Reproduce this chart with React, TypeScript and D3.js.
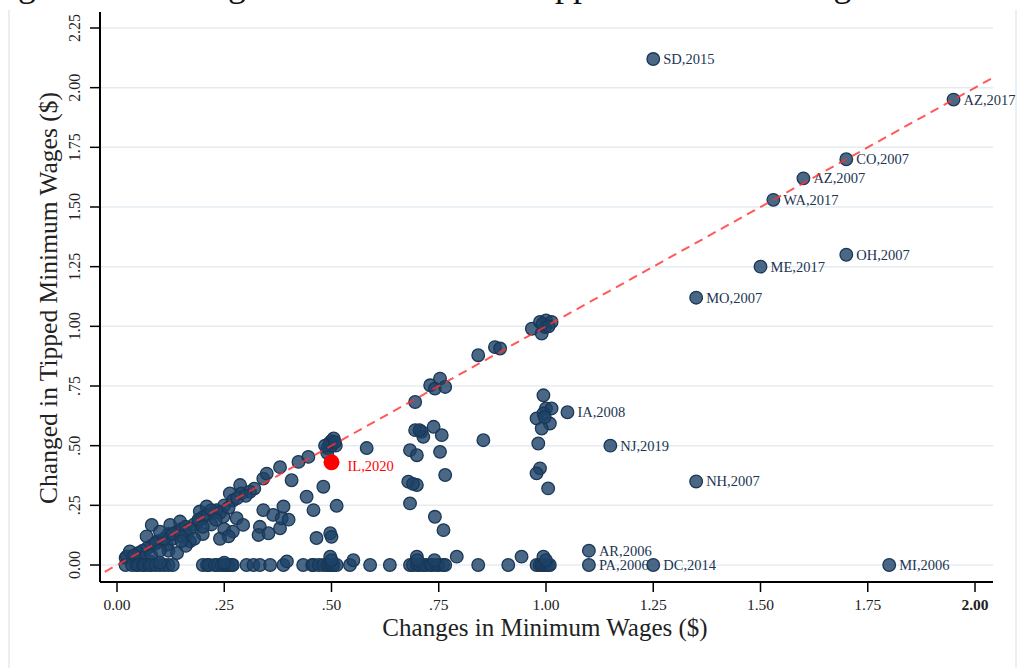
import React from "react";
import * as d3 from "d3";

const xTicks = [0, 0.25, 0.5, 0.75, 1, 1.25, 1.5, 1.75, 2];
const xTickLabels = ["0.00", ".25", ".50", ".75", "1.00", "1.25", "1.50", "1.75", "2.00"];
const yTicks = [0, 0.25, 0.5, 0.75, 1, 1.25, 1.5, 1.75, 2, 2.25];
const yTickLabels = ["0.00", ".25", ".50", ".75", "1.00", "1.25", "1.50", "1.75", "2.00", "2.25"];

// unlabeled observations: [change in minimum wage, change in tipped minimum wage]
const diagonalCluster: [number, number][] = [
  [0.02, 0.03], [0.023, 0.036], [0.03, 0.057], [0.046, 0.022], [0.05, 0.05], [0.06, 0.06],
  [0.069, 0.12], [0.077, 0.015], [0.08, 0.08], [0.081, 0.168], [0.093, 0.099], [0.1, 0.1],
  [0.116, 0.085], [0.12, 0.13], [0.124, 0.168], [0.13, 0.11], [0.14, 0.14], [0.147, 0.182],
  [0.15, 0.15], [0.16, 0.16], [0.162, 0.126], [0.17, 0.099], [0.18, 0.17], [0.19, 0.182],
  [0.193, 0.224], [0.2, 0.2], [0.209, 0.245], [0.21, 0.21], [0.23, 0.22], [0.232, 0.23],
  [0.248, 0.203], [0.25, 0.25], [0.263, 0.3], [0.27, 0.27], [0.279, 0.196], [0.287, 0.335],
  [0.29, 0.3], [0.294, 0.168], [0.31, 0.307], [0.32, 0.32], [0.333, 0.16], [0.33, 0.126],
  [0.341, 0.362], [0.341, 0.23], [0.349, 0.383], [0.353, 0.133], [0.364, 0.21], [0.38, 0.41],
  [0.38, 0.154], [0.384, 0.196], [0.388, 0.245], [0.4, 0.19], [0.407, 0.355], [0.423, 0.432],
  [0.442, 0.286], [0.446, 0.453], [0.458, 0.23], [0.465, 0.113], [0.481, 0.328], [0.497, 0.133],
  [0.5, 0.118], [0.512, 0.248],
  [0.07, 0.07], [0.09, 0.09], [0.11, 0.11], [0.13, 0.13], [0.1, 0.14], [0.15, 0.12],
  [0.17, 0.15], [0.19, 0.19], [0.22, 0.23], [0.24, 0.22], [0.26, 0.24], [0.28, 0.28],
  [0.3, 0.29], [0.22, 0.17], [0.25, 0.15], [0.27, 0.14], [0.26, 0.12], [0.24, 0.11],
  [0.2, 0.13], [0.18, 0.11], [0.16, 0.08], [0.12, 0.06], [0.14, 0.05], [0.06, 0.03],
  [0.04, 0.04], [0.08, 0.04], [0.1, 0.06], [0.15, 0.1], [0.2, 0.16], [0.23, 0.19],
];
const halfCluster: [number, number][] = [
  [0.49, 0.49], [0.495, 0.51], [0.5, 0.52], [0.505, 0.53], [0.51, 0.5], [0.49, 0.47], [0.5, 0.5],
  [0.485, 0.5], [0.508, 0.515], [0.582, 0.49],
];
const seventyFiveCluster: [number, number][] = [
  [0.695, 0.683], [0.73, 0.753], [0.741, 0.739], [0.753, 0.781], [0.765, 0.746], [0.695, 0.565],
  [0.71, 0.558], [0.714, 0.537], [0.738, 0.579], [0.757, 0.544], [0.683, 0.481], [0.699, 0.46],
  [0.753, 0.474], [0.765, 0.377], [0.679, 0.349], [0.699, 0.335], [0.683, 0.258], [0.741, 0.202],
  [0.761, 0.146], [0.854, 0.523], [0.842, 0.879], [0.881, 0.913], [0.893, 0.907],
  [0.69, 0.34], [0.705, 0.565],
];
const oneCluster: [number, number][] = [
  [0.967, 0.99], [0.986, 1.018], [1.0, 1.025], [1.013, 1.018], [0.99, 0.97], [0.998, 0.997],
  [0.992, 1.01], [1.006, 1.0],
  [0.994, 0.711], [1.0, 0.656], [1.013, 0.656], [0.994, 0.635], [0.978, 0.614], [1.009, 0.593],
  [0.99, 0.572], [0.982, 0.509], [0.986, 0.405], [0.978, 0.384], [1.005, 0.321], [0.997, 0.62],
];
const zeroRowX = [
  0.02, 0.035, 0.045, 0.05, 0.06, 0.065, 0.075, 0.08, 0.09, 0.1, 0.11, 0.12, 0.13, 0.2, 0.21,
  0.215, 0.228, 0.235, 0.244, 0.25, 0.256, 0.26, 0.267, 0.27, 0.302, 0.318, 0.333, 0.357, 0.388,
  0.434, 0.455, 0.458, 0.47, 0.481, 0.49, 0.495, 0.5, 0.504, 0.505, 0.512, 0.543, 0.59, 0.636,
  0.683, 0.69, 0.699, 0.705, 0.714, 0.72, 0.73, 0.735, 0.745, 0.75, 0.76, 0.765, 0.842, 0.912,
  0.978, 0.985, 0.99, 0.994, 1.0, 1.005, 1.009,
];
const nearZero: [number, number][] = [
  [0.396, 0.015], [0.497, 0.035], [0.551, 0.02], [0.699, 0.035], [0.792, 0.035],
  [0.943, 0.035], [0.994, 0.035], [0.5, 0.02], [0.7, 0.02], [0.74, 0.02], [1.0, 0.02],
  [0.25, 0.01], [0.1, 0.01],
];

const labeledNames = [
  "SD,2015", "AZ,2017", "CO,2007", "AZ,2007", "WA,2017", "OH,2007", "ME,2017", "MO,2007",
  "IA,2008", "NJ,2019", "NH,2007", "AR,2006", "PA,2006", "DC,2014", "MI,2006",
];
const labeledX = [1.25, 1.95, 1.7, 1.6, 1.53, 1.7, 1.5, 1.35, 1.05, 1.15, 1.35, 1.1, 1.1, 1.25, 1.8];
const labeledY = [2.12, 1.95, 1.7, 1.62, 1.53, 1.3, 1.25, 1.12, 0.64, 0.5, 0.35, 0.06, 0, 0, 0];

const highlightName = "IL,2020";
const highlightX = 0.5;
const highlightY = 0.43;

const W = 1019;
const H = 668;
const plotLeft = 100;
const plotRight = 993;
const plotTop = 12;
const plotBottom = 582;

export default function App() {
  const x = d3.scaleLinear().domain([0, 2]).range([117, 975]);
  const y = d3.scaleLinear().domain([0, 2.25]).range([565, 28]);

  const plain: [number, number][] = [
    ...diagonalCluster,
    ...halfCluster,
    ...seventyFiveCluster,
    ...oneCluster,
    ...zeroRowX.map((v) => [v, 0] as [number, number]),
    ...nearZero,
  ];
  const labeled = labeledNames.map((n, i) => ({ n, x: labeledX[i], y: labeledY[i] }));

  const lo = x.invert(plotLeft) - 0.05;
  const hi = x.invert(plotRight) + 0.05;
  const diag = d3.line<number>().x((d) => x(d)).y((d) => y(d))([lo, hi]) as string;

  const dotFill = "#1d4268";
  const dotStroke = "#1a3856";
  const serif = "'Liberation Serif', 'Times New Roman', serif";

  return (
    <svg
      width={W}
      height={H}
      style={{ position: "absolute", left: 0, top: 0, background: "#fff" }}
      fontFamily={serif}
    >
      <defs>
        <clipPath id="plotclip">
          <rect x={plotLeft} y={plotTop} width={plotRight - plotLeft} height={plotBottom - plotTop} />
        </clipPath>
      </defs>
      <rect x={0} y={0} width={W} height={H} fill="#fff" />
      {/* outer frame */}
      <line x1={9} x2={9} y1={10} y2={H} stroke="#e3eaf0" strokeWidth={1.5} />
      <line x1={1016} x2={1016} y1={10} y2={H} stroke="#e3eaf0" strokeWidth={1.5} />
      {/* title (mostly cropped at the top edge, as in the reference) */}
      <text x={-12} y={-4} fontSize={36} fill="#111">
        Figure A1: Changes in Minimum vs. Tipped Minimum Wages
      </text>

      {/* gridlines */}
      {yTicks.map((t) => (
        <line key={"g" + t} x1={plotLeft} x2={plotRight} y1={y(t)} y2={y(t)} stroke="#e4ecf1" strokeWidth={1.5} />
      ))}

      {/* labels */}
      {labeled.map((d) => (
        <text key={"l" + d.n} x={x(d.x) + 10} y={y(d.y) + 5} fontSize={14.5} fill="#1c3552">
          {d.n}
        </text>
      ))}
      <text x={x(highlightX) + 16} y={y(highlightY) + 9} fontSize={14.5} fill="#ff0000">
        {highlightName}
      </text>

      {/* points */}
      <g>
        {plain.map((d, i) => (
          <circle key={"p" + i} cx={x(d[0])} cy={y(d[1])} r={6.3} fill={dotFill} fillOpacity={0.8} stroke={dotStroke} strokeWidth={1.3} />
        ))}
        {labeled.map((d) => (
          <circle key={"lp" + d.n} cx={x(d.x)} cy={y(d.y)} r={6.3} fill={dotFill} fillOpacity={0.8} stroke={dotStroke} strokeWidth={1.3} />
        ))}
        <circle cx={x(highlightX)} cy={y(highlightY)} r={8} fill="#ff0000" />
      </g>

      {/* 45 degree line */}
      <path d={diag} clipPath="url(#plotclip)" fill="none" stroke="#ff3030" strokeOpacity={0.8} strokeWidth={2} strokeDasharray="9 6" />

      {/* axes */}
      <line x1={plotLeft} x2={plotLeft} y1={plotTop} y2={plotBottom} stroke="#000" strokeWidth={2} />
      <line x1={plotLeft} x2={plotRight} y1={plotBottom} y2={plotBottom} stroke="#000" strokeWidth={2} />
      {yTicks.map((t, i) => (
        <g key={"yt" + t}>
          <line x1={90} x2={plotLeft} y1={y(t)} y2={y(t)} stroke="#000" strokeWidth={1.5} />
          <text
            transform={`translate(80,${y(t)}) rotate(-90)`}
            textAnchor="middle"
            fontSize={16}
            fill="#222"
          >
            {yTickLabels[i]}
          </text>
        </g>
      ))}
      {xTicks.map((t, i) => (
        <g key={"xt" + t}>
          <line x1={x(t)} x2={x(t)} y1={plotBottom} y2={plotBottom + 10} stroke="#000" strokeWidth={1.5} />
          <text
            x={x(t)}
            y={610}
            textAnchor="middle"
            fontSize={15.5}
            fill="#222"
            fontWeight={t === 2 ? "bold" : "normal"}
          >
            {xTickLabels[i]}
          </text>
        </g>
      ))}
      <text x={545} y={636} textAnchor="middle" fontSize={25} fill="#222">
        Changes in Minimum Wages ($)
      </text>
      <text transform="translate(57,298) rotate(-90)" textAnchor="middle" fontSize={25.5} fill="#222">
        Changed in Tipped Minimum Wages ($)
      </text>
    </svg>
  );
}
